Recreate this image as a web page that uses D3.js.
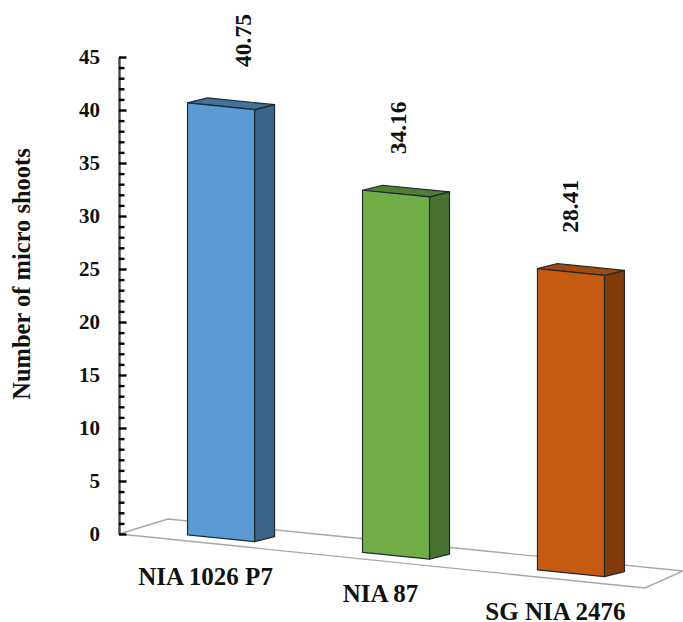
<!DOCTYPE html>
<html>
<head>
<meta charset="utf-8">
<script src="https://cdnjs.cloudflare.com/ajax/libs/d3/7.8.5/d3.min.js"></script>
<style>
html,body{margin:0;padding:0;background:#fff;}
svg{display:block;}
text{font-family:"Liberation Serif",serif;font-weight:bold;fill:#111;}
</style>
</head>
<body>
<svg id="chart" width="683" height="622"></svg>
<script>
// Micro shoot counts per genotype
const categories = ["NIA 1026 P7", "NIA 87", "SG NIA 2476"];
const values = [40.75, 34.16, 28.41];
const valueLabels = ["40.75", "34.16", "28.41"];
const faceColors = ["#5b9bd5", "#70ad47", "#c55a11"];
const sideColors = ["#3a6488", "#4a7230", "#823c0c"];
const topColors = ["#41719c", "#507e32", "#a04a0e"];
const yTickLabels = [0, 5, 10, 15, 20, 25, 30, 35, 40, 45];

const svg = d3.select("#chart");

// Oblique projection: the floor falls to the right as it comes forward
const slope = 0.1;
const depth = { x: 20, y: -5 };
const axisX = 119;

const y = d3.scaleLinear().domain([0, 45]).range([534, 57]);
const x = d3.scaleBand().domain(categories).range([120, 672]).paddingInner(0.617).paddingOuter(0.386);
const floorY = px => y(0) - 6 + slope * (px - axisX);

// Floor plane
const floorPts = [[axisX, y(0)], [645, 588], [683, 571], [168, 519]];
svg.append("polygon")
  .attr("points", floorPts.join(" "))
  .attr("fill", "#fff")
  .attr("stroke", "#a8a8a8")
  .attr("stroke-width", 1.4);

// Value axis: short ticks each unit, longer ones at the labelled fives
const minorTicks = d3.range(0, 46);
const axisG = svg.append("g").attr("transform", `translate(${axisX},0)`);
axisG.call(d3.axisRight(y).tickValues(minorTicks).tickSize(6).tickFormat("").tickSizeOuter(0));
axisG.select(".domain").attr("stroke", "#444").attr("stroke-width", 2.4);
axisG.selectAll(".tick line")
  .attr("stroke", "#000")
  .attr("stroke-width", 2.4)
  .attr("x2", d => (d % 5 === 0 ? 7.5 : 5.5));

const labelG = svg.append("g").attr("transform", "translate(100,0)");
labelG.call(d3.axisLeft(y).tickValues(yTickLabels).tickSize(0).tickPadding(0));
labelG.select(".domain").remove();
labelG.selectAll("text").style("font-size", "21px");

svg.append("text")
  .attr("transform", "translate(30,274) rotate(-90)")
  .attr("text-anchor", "middle")
  .style("font-size", "24.5px")
  .text("Number of micro shoots");

// Bars as three-faced prisms
const labelShift = [23, 3, 0];
const bars = svg.selectAll("g.bar").data(categories).join("g").attr("class", "bar");

bars.each(function (cat, i) {
  const g = d3.select(this);
  const x0 = x(cat), x1 = x0 + x.bandwidth();
  const h = y(0) - y(values[i]);
  const b0 = floorY(x0), b1 = floorY(x1);
  const t0 = b0 - h, t1 = b1 - h;
  const edge = { stroke: "#1f2a30", "stroke-width": 1.2, "stroke-linejoin": "round" };
  const face = (pts, fill) => {
    const p = g.append("polygon").attr("points", pts.join(" ")).attr("fill", fill);
    Object.entries(edge).forEach(([k, v]) => p.attr(k, v));
  };
  face([[x1, t1], [x1 + depth.x, t1 + depth.y], [x1 + depth.x, b1 + depth.y], [x1, b1]], sideColors[i]);
  face([[x0, t0], [x0 + depth.x, t0 + depth.y], [x1 + depth.x, t1 + depth.y], [x1, t1]], topColors[i]);
  face([[x0, t0], [x1, t1], [x1, b1], [x0, b0]], faceColors[i]);

  // Value printed upright along the bar, above its top
  g.append("text")
    .attr("transform", `translate(${(x0 + x1) / 2 + labelShift[i] + 7},${t0 - 36}) rotate(-90)`)
    .style("font-size", "23.5px")
    .text(valueLabels[i]);

  // Category label follows the floor's slope
  g.append("text")
    .attr("x", x0 + 18)
    .attr("y", b0 + 50)
    .attr("text-anchor", "middle")
    .style("font-size", "25px")
    .text(cat);
});
</script>
</body>
</html>
